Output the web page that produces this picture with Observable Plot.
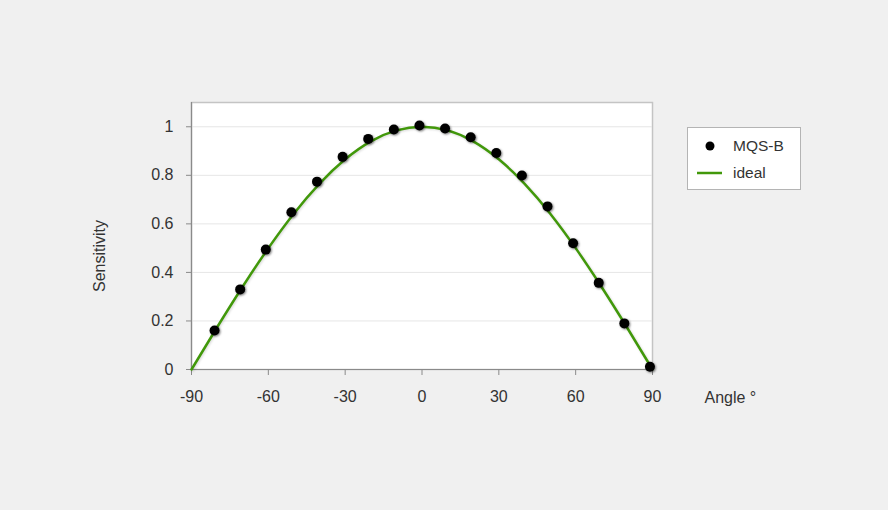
<!DOCTYPE html>
<html>
<head>
<meta charset="utf-8">
<script src="https://cdn.jsdelivr.net/npm/d3@7"></script>
<script src="https://cdn.jsdelivr.net/npm/@observablehq/plot@0.6"></script>
<style>
  html, body { margin: 0; padding: 0; background: #f0f0f0; }
  #wrap { position: relative; width: 888px; height: 510px; }
  #chart g[aria-label="dot"] { filter: drop-shadow(1.5px 1.5px 1.2px rgba(0,0,0,0.5)); }
  #chart g[aria-label="line"] { filter: drop-shadow(1px 1px 1px rgba(0,0,0,0.15)); }
  #legend {
    position: absolute; left: 687px; top: 127px; width: 114px; height: 63px;
    background: #fff; border: 1px solid #b4b4b4; box-sizing: border-box;
    font-family: "Liberation Sans", Arial, sans-serif; font-size: 15.5px; color: #333;
  }
  #legend .row { position: absolute; left: 0; height: 20px; }
  #legend .row span { position: absolute; left: 45px; top: 1px; white-space: nowrap; }
</style>
</head>
<body>
<div id="wrap">
  <div id="chart"></div>
  <div id="legend">
    <div class="row" style="top:8px">
      <svg width="40" height="20" style="position:absolute;left:0;top:0"><circle cx="22" cy="10" r="4.5" fill="#000"/></svg>
      <span>MQS-B</span>
    </div>
    <div class="row" style="top:35px">
      <svg width="40" height="20" style="position:absolute;left:0;top:0"><line x1="9" x2="34" y1="10" y2="10" stroke="#41980a" stroke-width="2.5"/></svg>
      <span>ideal</span>
    </div>
  </div>
</div>
<script>
// Measured data (MQS-B)
const mqsAngles = [-81, -71, -61, -51, -41, -31, -21, -11, -1, 9, 19, 29, 39, 49, 59, 69, 79, 89];
const mqsValues = [0.161, 0.330, 0.494, 0.648, 0.774, 0.876, 0.950, 0.989, 1.005, 0.993, 0.957, 0.892, 0.799, 0.672, 0.520, 0.357, 0.190, 0.011];

// Ideal curve (read at every 10°)
const idealAngles = [-90, -80, -70, -60, -50, -40, -30, -20, -10, 0, 10, 20, 30, 40, 50, 60, 70, 80, 90];
const idealValues = [0, 0.174, 0.342, 0.5, 0.643, 0.766, 0.866, 0.940, 0.985, 1, 0.985, 0.940, 0.866, 0.766, 0.643, 0.5, 0.342, 0.174, 0];

// Ticks
const xTicks = [-90, -60, -30, 0, 30, 60, 90];
const yTicks = [0, 0.2, 0.4, 0.6, 0.8, 1];

const mqs = mqsAngles.map((a, i) => ({angle: a, value: mqsValues[i]}));
const ideal = idealAngles.map((a, i) => ({angle: a, value: idealValues[i]}));

const chart = Plot.plot({
  width: 888,
  height: 510,
  marginLeft: 191,
  marginRight: 236,
  marginTop: 102,
  marginBottom: 141,
  x: {domain: [-90, 90]},
  y: {domain: [0, 1.1]},
  style: {
    background: "#f0f0f0",
    fontFamily: "'Liberation Sans', Arial, sans-serif",
    fontSize: "16px",
    color: "#333"
  },
  marks: [
    Plot.frame({fill: "white", stroke: "#c4c4c4", strokeWidth: 1.5}),
    Plot.gridY(yTicks.slice(1), {stroke: "#e6e6e6", strokeOpacity: 1}),
    Plot.ruleY([0], {stroke: "#8a8a8a", strokeWidth: 1.2}),
    Plot.ruleX([-90], {stroke: "#8a8a8a", strokeWidth: 1.2}),
    Plot.axisX(xTicks, {tickSize: 6, tickPadding: 15, stroke: "#8a8a8a", fill: "#333", fontSize: 16, label: null, tickFormat: d => String(d)}),
    Plot.axisY(yTicks, {tickSize: 5, tickPadding: 13, stroke: "#8a8a8a", fill: "#333", fontSize: 16, label: null, tickFormat: d => String(d)}),
    Plot.line(ideal, {x: "angle", y: "value", stroke: "#41980a", strokeWidth: 2.5, curve: "natural"}),
    Plot.dot(mqs, {x: "angle", y: "value", r: 5, fill: "#000", stroke: null}),
    Plot.text(["Sensitivity"], {frameAnchor: "left", text: d => d, rotate: -90, textAnchor: "middle", lineAnchor: "middle", dx: -92, dy: 20, fill: "#333", fontSize: 16}),
    Plot.text(["Angle °"], {frameAnchor: "bottom-right", text: d => d, textAnchor: "start", lineAnchor: "middle", dx: 52, dy: 28, fill: "#333", fontSize: 16})
  ]
});
document.getElementById("chart").appendChild(chart);
</script>
</body>
</html>
